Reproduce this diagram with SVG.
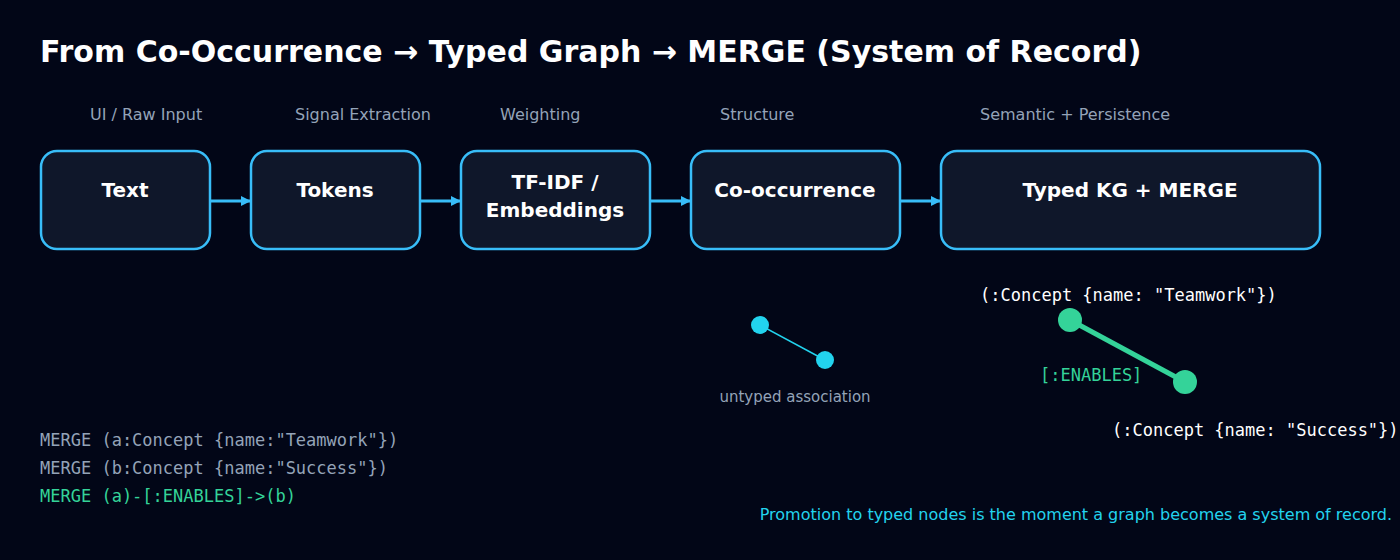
<svg xmlns="http://www.w3.org/2000/svg" width="1400" height="560" viewBox="0 0 1400 560">
<style>
.bx{fill:#0f172a;stroke:#38bdf8;stroke-width:2.5}
.bt{font-family:"DejaVu Sans",sans-serif;font-weight:bold;font-size:20px;fill:#fff;text-anchor:middle}
.lb{font-family:"DejaVu Sans",sans-serif;font-size:16px;fill:#94a3b8}
.mono{font-family:"DejaVu Sans Mono",monospace;font-size:17px}
.cn{stroke:#38bdf8;stroke-width:3;fill:none;marker-end:url(#ah)}
</style>
<defs><marker id="ah" markerWidth="10" markerHeight="10" refX="9" refY="5" orient="auto" markerUnits="userSpaceOnUse"><path d="M0,0 L10,5 L0,10 Z" fill="#38bdf8"/></marker></defs>
<rect width="1400" height="560" fill="#020617"/>
<text x="40" y="62" font-family="DejaVu Sans,sans-serif" font-weight="bold" font-size="30" fill="#fff">From Co-Occurrence → Typed Graph → MERGE (System of Record)</text>
<text class="lb" x="90" y="120">UI / Raw Input</text>
<text class="lb" x="295" y="120">Signal Extraction</text>
<text class="lb" x="500" y="120">Weighting</text>
<text class="lb" x="720" y="120">Structure</text>
<text class="lb" x="980" y="120">Semantic + Persistence</text>
<g id="text"><rect class="bx" x="41" y="151" width="169" height="98" rx="16"/><text class="bt" x="125" y="197">Text</text></g>
<g id="tokens"><rect class="bx" x="251" y="151" width="169" height="98" rx="16"/><text class="bt" x="335" y="197">Tokens</text></g>
<g id="tfidf"><rect class="bx" x="461" y="151" width="189" height="98" rx="16"/><text class="bt" x="555" y="189">TF-IDF /</text><text class="bt" x="555" y="217">Embeddings</text></g>
<g id="cooc"><rect class="bx" x="691" y="151" width="209" height="98" rx="16"/><text class="bt" x="795" y="197">Co-occurrence</text></g>
<g id="typed"><rect class="bx" x="941" y="151" width="379" height="98" rx="16"/><text class="bt" x="1130" y="197">Typed KG + MERGE</text></g>
<g id="connectors">
<line class="cn" x1="210" y1="201" x2="250" y2="201"/>
<line class="cn" x1="420" y1="201" x2="460" y2="201"/>
<line class="cn" x1="650" y1="201" x2="690" y2="201"/>
<line class="cn" x1="900" y1="201" x2="940" y2="201"/>
</g>
<g id="untyped">
<line x1="760" y1="325" x2="825" y2="360" stroke="#22d3ee" stroke-width="1.5"/>
<circle cx="760" cy="325" r="9" fill="#22d3ee"/><circle cx="825" cy="360" r="9" fill="#22d3ee"/>
<text x="795" y="402" text-anchor="middle" font-family="DejaVu Sans,sans-serif" font-size="15" fill="#94a3b8">untyped association</text>
</g>
<g id="typedgraph">
<line x1="1070" y1="320" x2="1185" y2="382" stroke="#34d399" stroke-width="5"/>
<circle cx="1070" cy="320" r="12" fill="#34d399"/><circle cx="1185" cy="382" r="12" fill="#34d399"/>
<text class="mono" x="980" y="301" fill="#fff">(:Concept {name: "Teamwork"})</text>
<text class="mono" x="1040" y="381" fill="#34d399">[:ENABLES]</text>
<text class="mono" x="1112" y="436" fill="#fff">(:Concept {name: "Success"})</text>
</g>
<text class="mono" x="40" y="446" fill="#94a3b8">MERGE (a:Concept {name:"Teamwork"})</text>
<text class="mono" x="40" y="474" fill="#94a3b8">MERGE (b:Concept {name:"Success"})</text>
<text class="mono" x="40" y="502" fill="#34d399">MERGE (a)-[:ENABLES]-&gt;(b)</text>
<text x="1392" y="520" text-anchor="end" font-family="DejaVu Sans,sans-serif" font-size="16" fill="#22d3ee">Promotion to typed nodes is the moment a graph becomes a system of record.</text>
</svg>
